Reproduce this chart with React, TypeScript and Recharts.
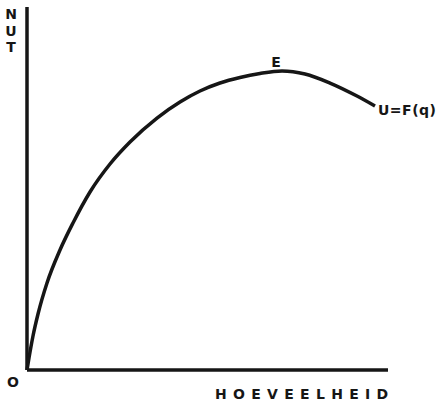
import { LineChart, Line, XAxis, YAxis, ReferenceLine, ReferenceDot, Label, Customized } from 'recharts';

// quantity (hoeveelheid) vs utility (nut)
const quantity = [0, 0.55, 1.66, 3.05, 5.54, 9.14, 12.74, 17.45, 22.99, 28.53, 36.01, 42.38, 47.92, 53.46, 59.0, 64.54, 70.64, 77.01, 83.93, 91.41, 96.4];
const utility = [0, 3.31, 9.37, 15.43, 23.97, 33.06, 40.5, 49.04, 56.75, 62.81, 69.42, 73.83, 76.86, 79.06, 80.58, 81.68, 82.37, 81.54, 79.06, 75.48, 72.73];

const yLetters = ['N', 'U', 'T'];
const xTitle = 'HOEVEELHEID';
const originLabel = 'O';
const peakLabel = 'E';
const curveLabel = 'U=F(q)';

const data = quantity.map((q, i) => ({ q, u: utility[i] }));
const peakIndex = utility.indexOf(Math.max(...utility));
const last = data[data.length - 1];

const FONT = '"DejaVu Sans", Verdana, sans-serif';
const INK = '#161616';

const AxisTexts = () => (
  <g fontFamily={FONT} fontWeight="bold" fill={INK}>
    {yLetters.map((l, i) => (
      <text key={l} x={11} y={19 + i * 16.5} fontSize={14} textAnchor="middle">
        {l}
      </text>
    ))}
    <text x={13} y={387} fontSize={14} textAnchor="middle">
      {originLabel}
    </text>
    <text x={215} y={399} fontSize={14} letterSpacing={6.3}>
      {xTitle}
    </text>
  </g>
);

export default function App() {
  return (
    <div style={{ position: 'absolute', left: 0, top: 0, background: '#fff' }}>
      <LineChart width={441} height={402} data={data} margin={{ top: 7, right: 53, left: 27, bottom: 32 }}>
        <XAxis dataKey="q" type="number" domain={[0, 100]} hide />
        <YAxis type="number" domain={[0, 100]} hide />
        <ReferenceLine x={0} stroke={INK} strokeWidth={3.5} />
        <ReferenceLine y={0} stroke={INK} strokeWidth={3.5} />
        <Line
          dataKey="u"
          type="monotone"
          stroke={INK}
          strokeWidth={3.5}
          dot={false}
          isAnimationActive={false}
        />
        <ReferenceDot x={data[peakIndex].q} y={data[peakIndex].u} r={0} stroke="none" fill="none">
          <Label value={peakLabel} position="top" offset={4} dx={-6} fill={INK} fontSize={14} fontWeight="bold" fontFamily={FONT} />
        </ReferenceDot>
        <ReferenceDot x={last.q} y={last.u} r={0} stroke="none" fill="none">
          <Label value={curveLabel} position="right" offset={3} dy={4} fill={INK} fontSize={14} fontWeight="bold" fontFamily={FONT} letterSpacing={0.5} />
        </ReferenceDot>
        <Customized component={AxisTexts} />
      </LineChart>
    </div>
  );
}
